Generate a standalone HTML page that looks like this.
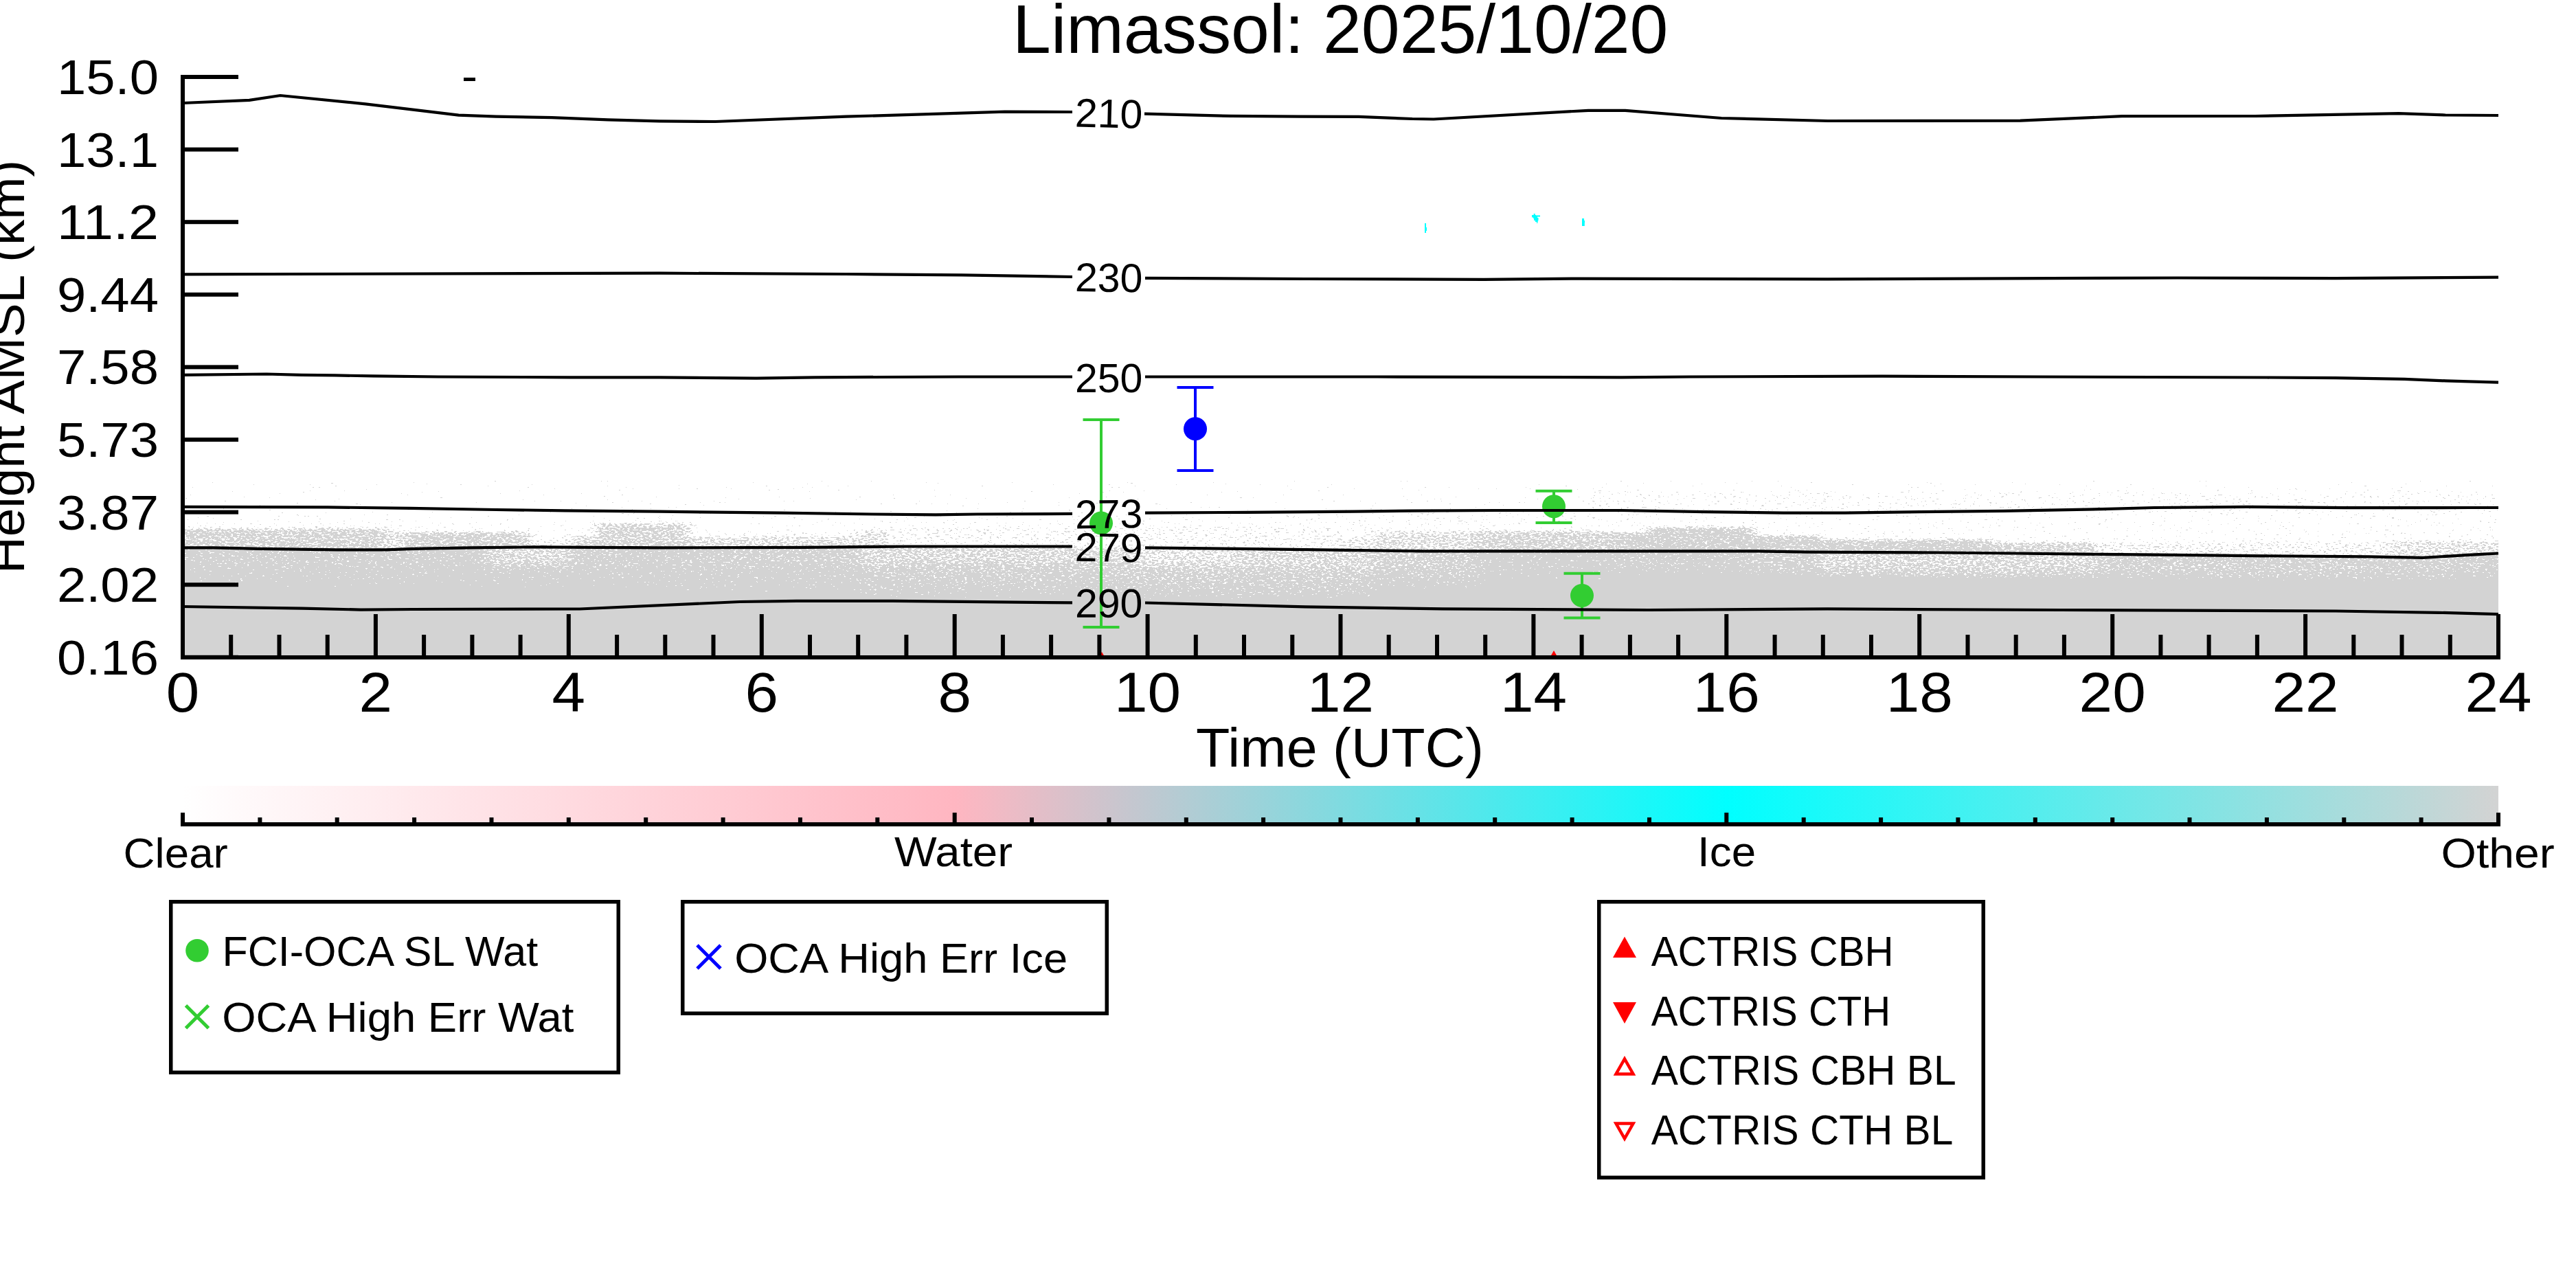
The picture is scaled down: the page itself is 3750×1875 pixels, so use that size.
<!DOCTYPE html>
<html><head><meta charset="utf-8"><title>Limassol: 2025/10/20</title>
<style>
html,body{margin:0;padding:0;background:#fff;width:3750px;height:1875px;overflow:hidden}
svg{display:block}
text{font-family:"Liberation Sans",sans-serif;fill:#000}
.cl{font-size:60px}
.tk{font-size:80px}
.yk{font-size:68px}
.xl{font-size:80px}
.yl{font-size:72px}
.ti{font-size:100px}
.cbl{font-size:60px}
.lg{font-size:60px}
</style></head><body>
<svg width="3750" height="1875" viewBox="0 0 3750 1875">
<defs><linearGradient id="g0" gradientUnits="userSpaceOnUse" x1="0" y1="700" x2="0" y2="900"><stop offset="0.0000" stop-opacity="0"/><stop offset="0.2100" stop-opacity="0"/><stop offset="0.3400" stop-opacity="0.015"/><stop offset="0.3600" stop-opacity="0.75"/><stop offset="0.4870" stop-opacity="0.75"/><stop offset="0.4970" stop-opacity="0.93"/><stop offset="0.5770" stop-opacity="0.93"/><stop offset="0.6470" stop-opacity="0.97"/><stop offset="0.8000" stop-opacity="1"/><stop offset="1.0000" stop-opacity="1"/></linearGradient><linearGradient id="g1" gradientUnits="userSpaceOnUse" x1="0" y1="700" x2="0" y2="900"><stop offset="0.0000" stop-opacity="0"/><stop offset="0.2100" stop-opacity="0"/><stop offset="0.3400" stop-opacity="0.015"/><stop offset="0.3600" stop-opacity="0.75"/><stop offset="0.4870" stop-opacity="0.75"/><stop offset="0.4970" stop-opacity="0.93"/><stop offset="0.5770" stop-opacity="0.93"/><stop offset="0.6470" stop-opacity="0.97"/><stop offset="0.8000" stop-opacity="1"/><stop offset="1.0000" stop-opacity="1"/></linearGradient><linearGradient id="g2" gradientUnits="userSpaceOnUse" x1="0" y1="700" x2="0" y2="900"><stop offset="0.0000" stop-opacity="0"/><stop offset="0.2100" stop-opacity="0"/><stop offset="0.3400" stop-opacity="0.015"/><stop offset="0.3600" stop-opacity="0.75"/><stop offset="0.4870" stop-opacity="0.75"/><stop offset="0.4970" stop-opacity="0.93"/><stop offset="0.5770" stop-opacity="0.93"/><stop offset="0.6470" stop-opacity="0.97"/><stop offset="0.8000" stop-opacity="1"/><stop offset="1.0000" stop-opacity="1"/></linearGradient><linearGradient id="g3" gradientUnits="userSpaceOnUse" x1="0" y1="700" x2="0" y2="900"><stop offset="0.0000" stop-opacity="0"/><stop offset="0.2100" stop-opacity="0"/><stop offset="0.3400" stop-opacity="0.015"/><stop offset="0.3600" stop-opacity="0.75"/><stop offset="0.4900" stop-opacity="0.75"/><stop offset="0.5000" stop-opacity="0.93"/><stop offset="0.5800" stop-opacity="0.93"/><stop offset="0.6500" stop-opacity="0.97"/><stop offset="0.8000" stop-opacity="1"/><stop offset="1.0000" stop-opacity="1"/></linearGradient><linearGradient id="g4" gradientUnits="userSpaceOnUse" x1="0" y1="700" x2="0" y2="900"><stop offset="0.0000" stop-opacity="0"/><stop offset="0.2100" stop-opacity="0"/><stop offset="0.3400" stop-opacity="0.015"/><stop offset="0.3600" stop-opacity="0.75"/><stop offset="0.4942" stop-opacity="0.75"/><stop offset="0.5042" stop-opacity="0.93"/><stop offset="0.5842" stop-opacity="0.93"/><stop offset="0.6542" stop-opacity="0.97"/><stop offset="0.8000" stop-opacity="1"/><stop offset="1.0000" stop-opacity="1"/></linearGradient><linearGradient id="g5" gradientUnits="userSpaceOnUse" x1="0" y1="700" x2="0" y2="900"><stop offset="0.0000" stop-opacity="0"/><stop offset="0.2100" stop-opacity="0"/><stop offset="0.3400" stop-opacity="0.015"/><stop offset="0.3600" stop-opacity="0.75"/><stop offset="0.4970" stop-opacity="0.75"/><stop offset="0.5070" stop-opacity="0.93"/><stop offset="0.5870" stop-opacity="0.93"/><stop offset="0.6570" stop-opacity="0.97"/><stop offset="0.8000" stop-opacity="1"/><stop offset="1.0000" stop-opacity="1"/></linearGradient><linearGradient id="g6" gradientUnits="userSpaceOnUse" x1="0" y1="700" x2="0" y2="900"><stop offset="0.0000" stop-opacity="0"/><stop offset="0.2100" stop-opacity="0"/><stop offset="0.3400" stop-opacity="0.015"/><stop offset="0.3600" stop-opacity="0.75"/><stop offset="0.4998" stop-opacity="0.75"/><stop offset="0.5098" stop-opacity="0.93"/><stop offset="0.5898" stop-opacity="0.93"/><stop offset="0.6598" stop-opacity="0.97"/><stop offset="0.8000" stop-opacity="1"/><stop offset="1.0000" stop-opacity="1"/></linearGradient><linearGradient id="g7" gradientUnits="userSpaceOnUse" x1="0" y1="700" x2="0" y2="900"><stop offset="0.0000" stop-opacity="0"/><stop offset="0.2100" stop-opacity="0"/><stop offset="0.3400" stop-opacity="0.015"/><stop offset="0.3600" stop-opacity="0.75"/><stop offset="0.5020" stop-opacity="0.75"/><stop offset="0.5120" stop-opacity="0.93"/><stop offset="0.5920" stop-opacity="0.93"/><stop offset="0.6620" stop-opacity="0.97"/><stop offset="0.8000" stop-opacity="1"/><stop offset="1.0000" stop-opacity="1"/></linearGradient><linearGradient id="g8" gradientUnits="userSpaceOnUse" x1="0" y1="700" x2="0" y2="900"><stop offset="0.0000" stop-opacity="0"/><stop offset="0.2100" stop-opacity="0"/><stop offset="0.3400" stop-opacity="0.015"/><stop offset="0.3600" stop-opacity="0.75"/><stop offset="0.5020" stop-opacity="0.75"/><stop offset="0.5120" stop-opacity="0.93"/><stop offset="0.5920" stop-opacity="0.93"/><stop offset="0.6620" stop-opacity="0.97"/><stop offset="0.8000" stop-opacity="1"/><stop offset="1.0000" stop-opacity="1"/></linearGradient><linearGradient id="g9" gradientUnits="userSpaceOnUse" x1="0" y1="700" x2="0" y2="900"><stop offset="0.0000" stop-opacity="0"/><stop offset="0.2250" stop-opacity="0"/><stop offset="0.3550" stop-opacity="0.015"/><stop offset="0.3750" stop-opacity="0.4"/><stop offset="0.4994" stop-opacity="0.4"/><stop offset="0.5094" stop-opacity="0.93"/><stop offset="0.5894" stop-opacity="0.93"/><stop offset="0.6594" stop-opacity="0.97"/><stop offset="0.8000" stop-opacity="1"/><stop offset="1.0000" stop-opacity="1"/></linearGradient><linearGradient id="g10" gradientUnits="userSpaceOnUse" x1="0" y1="700" x2="0" y2="900"><stop offset="0.0000" stop-opacity="0"/><stop offset="0.2350" stop-opacity="0"/><stop offset="0.3650" stop-opacity="0.015"/><stop offset="0.3850" stop-opacity="0.8"/><stop offset="0.4933" stop-opacity="0.8"/><stop offset="0.5033" stop-opacity="0.93"/><stop offset="0.5833" stop-opacity="0.93"/><stop offset="0.6533" stop-opacity="0.97"/><stop offset="0.8000" stop-opacity="1"/><stop offset="1.0000" stop-opacity="1"/></linearGradient><linearGradient id="g11" gradientUnits="userSpaceOnUse" x1="0" y1="700" x2="0" y2="900"><stop offset="0.0000" stop-opacity="0"/><stop offset="0.2350" stop-opacity="0"/><stop offset="0.3650" stop-opacity="0.015"/><stop offset="0.3850" stop-opacity="0.8"/><stop offset="0.4899" stop-opacity="0.8"/><stop offset="0.4999" stop-opacity="0.93"/><stop offset="0.5799" stop-opacity="0.93"/><stop offset="0.6499" stop-opacity="0.97"/><stop offset="0.8000" stop-opacity="1"/><stop offset="1.0000" stop-opacity="1"/></linearGradient><linearGradient id="g12" gradientUnits="userSpaceOnUse" x1="0" y1="700" x2="0" y2="900"><stop offset="0.0000" stop-opacity="0"/><stop offset="0.2350" stop-opacity="0"/><stop offset="0.3650" stop-opacity="0.015"/><stop offset="0.3850" stop-opacity="0.8"/><stop offset="0.4867" stop-opacity="0.8"/><stop offset="0.4967" stop-opacity="0.93"/><stop offset="0.5767" stop-opacity="0.93"/><stop offset="0.6467" stop-opacity="0.97"/><stop offset="0.8000" stop-opacity="1"/><stop offset="1.0000" stop-opacity="1"/></linearGradient><linearGradient id="g13" gradientUnits="userSpaceOnUse" x1="0" y1="700" x2="0" y2="900"><stop offset="0.0000" stop-opacity="0"/><stop offset="0.2350" stop-opacity="0"/><stop offset="0.3650" stop-opacity="0.015"/><stop offset="0.3850" stop-opacity="0.7"/><stop offset="0.4839" stop-opacity="0.7"/><stop offset="0.4939" stop-opacity="0.6"/><stop offset="0.5739" stop-opacity="0.6"/><stop offset="0.6439" stop-opacity="0.95"/><stop offset="0.8000" stop-opacity="1"/><stop offset="1.0000" stop-opacity="1"/></linearGradient><linearGradient id="g14" gradientUnits="userSpaceOnUse" x1="0" y1="700" x2="0" y2="900"><stop offset="0.0000" stop-opacity="0"/><stop offset="0.3000" stop-opacity="0"/><stop offset="0.4300" stop-opacity="0.015"/><stop offset="0.4500" stop-opacity="0.2"/><stop offset="0.4821" stop-opacity="0.2"/><stop offset="0.4921" stop-opacity="0.55"/><stop offset="0.5721" stop-opacity="0.55"/><stop offset="0.6421" stop-opacity="0.95"/><stop offset="0.8000" stop-opacity="1"/><stop offset="1.0000" stop-opacity="1"/></linearGradient><linearGradient id="g15" gradientUnits="userSpaceOnUse" x1="0" y1="700" x2="0" y2="900"><stop offset="0.0000" stop-opacity="0"/><stop offset="0.2600" stop-opacity="0"/><stop offset="0.3900" stop-opacity="0.015"/><stop offset="0.4100" stop-opacity="0.5"/><stop offset="0.4836" stop-opacity="0.5"/><stop offset="0.4936" stop-opacity="0.9"/><stop offset="0.5736" stop-opacity="0.9"/><stop offset="0.6436" stop-opacity="0.97"/><stop offset="0.8000" stop-opacity="1"/><stop offset="1.0000" stop-opacity="1"/></linearGradient><linearGradient id="g16" gradientUnits="userSpaceOnUse" x1="0" y1="700" x2="0" y2="900"><stop offset="0.0000" stop-opacity="0"/><stop offset="0.1750" stop-opacity="0"/><stop offset="0.3050" stop-opacity="0.015"/><stop offset="0.3250" stop-opacity="0.7"/><stop offset="0.4849" stop-opacity="0.7"/><stop offset="0.4949" stop-opacity="0.9"/><stop offset="0.5749" stop-opacity="0.9"/><stop offset="0.6449" stop-opacity="0.96"/><stop offset="0.8250" stop-opacity="1"/><stop offset="1.0000" stop-opacity="1"/></linearGradient><linearGradient id="g17" gradientUnits="userSpaceOnUse" x1="0" y1="700" x2="0" y2="900"><stop offset="0.0000" stop-opacity="0"/><stop offset="0.1750" stop-opacity="0"/><stop offset="0.3050" stop-opacity="0.015"/><stop offset="0.3250" stop-opacity="0.7"/><stop offset="0.4862" stop-opacity="0.7"/><stop offset="0.4962" stop-opacity="0.9"/><stop offset="0.5762" stop-opacity="0.9"/><stop offset="0.6462" stop-opacity="0.96"/><stop offset="0.8250" stop-opacity="1"/><stop offset="1.0000" stop-opacity="1"/></linearGradient><linearGradient id="g18" gradientUnits="userSpaceOnUse" x1="0" y1="700" x2="0" y2="900"><stop offset="0.0000" stop-opacity="0"/><stop offset="0.1750" stop-opacity="0"/><stop offset="0.3050" stop-opacity="0.015"/><stop offset="0.3250" stop-opacity="0.7"/><stop offset="0.4867" stop-opacity="0.7"/><stop offset="0.4967" stop-opacity="0.9"/><stop offset="0.5767" stop-opacity="0.9"/><stop offset="0.6467" stop-opacity="0.96"/><stop offset="0.8250" stop-opacity="1"/><stop offset="1.0000" stop-opacity="1"/></linearGradient><linearGradient id="g19" gradientUnits="userSpaceOnUse" x1="0" y1="700" x2="0" y2="900"><stop offset="0.0000" stop-opacity="0"/><stop offset="0.2700" stop-opacity="0"/><stop offset="0.4000" stop-opacity="0.015"/><stop offset="0.4200" stop-opacity="0.45"/><stop offset="0.4861" stop-opacity="0.45"/><stop offset="0.4961" stop-opacity="0.88"/><stop offset="0.5761" stop-opacity="0.88"/><stop offset="0.6461" stop-opacity="0.95"/><stop offset="0.8250" stop-opacity="1"/><stop offset="1.0000" stop-opacity="1"/></linearGradient><linearGradient id="g20" gradientUnits="userSpaceOnUse" x1="0" y1="700" x2="0" y2="900"><stop offset="0.0000" stop-opacity="0"/><stop offset="0.2700" stop-opacity="0"/><stop offset="0.4000" stop-opacity="0.015"/><stop offset="0.4200" stop-opacity="0.45"/><stop offset="0.4855" stop-opacity="0.45"/><stop offset="0.4955" stop-opacity="0.88"/><stop offset="0.5755" stop-opacity="0.88"/><stop offset="0.6455" stop-opacity="0.95"/><stop offset="0.8250" stop-opacity="1"/><stop offset="1.0000" stop-opacity="1"/></linearGradient><linearGradient id="g21" gradientUnits="userSpaceOnUse" x1="0" y1="700" x2="0" y2="900"><stop offset="0.0000" stop-opacity="0"/><stop offset="0.2700" stop-opacity="0"/><stop offset="0.4000" stop-opacity="0.015"/><stop offset="0.4200" stop-opacity="0.45"/><stop offset="0.4850" stop-opacity="0.45"/><stop offset="0.4950" stop-opacity="0.88"/><stop offset="0.5750" stop-opacity="0.88"/><stop offset="0.6450" stop-opacity="0.95"/><stop offset="0.8250" stop-opacity="1"/><stop offset="1.0000" stop-opacity="1"/></linearGradient><linearGradient id="g22" gradientUnits="userSpaceOnUse" x1="0" y1="700" x2="0" y2="900"><stop offset="0.0000" stop-opacity="0"/><stop offset="0.2700" stop-opacity="0"/><stop offset="0.4000" stop-opacity="0.015"/><stop offset="0.4200" stop-opacity="0.45"/><stop offset="0.4844" stop-opacity="0.45"/><stop offset="0.4944" stop-opacity="0.88"/><stop offset="0.5744" stop-opacity="0.88"/><stop offset="0.6444" stop-opacity="0.95"/><stop offset="0.8250" stop-opacity="1"/><stop offset="1.0000" stop-opacity="1"/></linearGradient><linearGradient id="g23" gradientUnits="userSpaceOnUse" x1="0" y1="700" x2="0" y2="900"><stop offset="0.0000" stop-opacity="0"/><stop offset="0.2700" stop-opacity="0"/><stop offset="0.4000" stop-opacity="0.015"/><stop offset="0.4200" stop-opacity="0.45"/><stop offset="0.4833" stop-opacity="0.45"/><stop offset="0.4933" stop-opacity="0.88"/><stop offset="0.5733" stop-opacity="0.88"/><stop offset="0.6433" stop-opacity="0.95"/><stop offset="0.8250" stop-opacity="1"/><stop offset="1.0000" stop-opacity="1"/></linearGradient><linearGradient id="g24" gradientUnits="userSpaceOnUse" x1="0" y1="700" x2="0" y2="900"><stop offset="0.0000" stop-opacity="0"/><stop offset="0.2700" stop-opacity="0"/><stop offset="0.4000" stop-opacity="0.015"/><stop offset="0.4200" stop-opacity="0.45"/><stop offset="0.4816" stop-opacity="0.45"/><stop offset="0.4916" stop-opacity="0.88"/><stop offset="0.5716" stop-opacity="0.88"/><stop offset="0.6416" stop-opacity="0.95"/><stop offset="0.8250" stop-opacity="1"/><stop offset="1.0000" stop-opacity="1"/></linearGradient><linearGradient id="g25" gradientUnits="userSpaceOnUse" x1="0" y1="700" x2="0" y2="900"><stop offset="0.0000" stop-opacity="0"/><stop offset="0.2250" stop-opacity="0"/><stop offset="0.3550" stop-opacity="0.015"/><stop offset="0.3750" stop-opacity="0.4"/><stop offset="0.4798" stop-opacity="0.4"/><stop offset="0.4898" stop-opacity="0.6"/><stop offset="0.5698" stop-opacity="0.6"/><stop offset="0.6398" stop-opacity="0.85"/><stop offset="0.8600" stop-opacity="1"/><stop offset="1.0000" stop-opacity="1"/></linearGradient><linearGradient id="g26" gradientUnits="userSpaceOnUse" x1="0" y1="700" x2="0" y2="900"><stop offset="0.0000" stop-opacity="0"/><stop offset="0.2000" stop-opacity="0"/><stop offset="0.3300" stop-opacity="0.015"/><stop offset="0.3500" stop-opacity="0.08"/><stop offset="0.4781" stop-opacity="0.08"/><stop offset="0.4881" stop-opacity="0.6"/><stop offset="0.5681" stop-opacity="0.6"/><stop offset="0.6381" stop-opacity="0.85"/><stop offset="0.8600" stop-opacity="1"/><stop offset="1.0000" stop-opacity="1"/></linearGradient><linearGradient id="g27" gradientUnits="userSpaceOnUse" x1="0" y1="700" x2="0" y2="900"><stop offset="0.0000" stop-opacity="0"/><stop offset="0.2000" stop-opacity="0"/><stop offset="0.3300" stop-opacity="0.015"/><stop offset="0.3500" stop-opacity="0.08"/><stop offset="0.4775" stop-opacity="0.08"/><stop offset="0.4875" stop-opacity="0.6"/><stop offset="0.5675" stop-opacity="0.6"/><stop offset="0.6375" stop-opacity="0.85"/><stop offset="0.8600" stop-opacity="1"/><stop offset="1.0000" stop-opacity="1"/></linearGradient><linearGradient id="g28" gradientUnits="userSpaceOnUse" x1="0" y1="700" x2="0" y2="900"><stop offset="0.0000" stop-opacity="0"/><stop offset="0.2000" stop-opacity="0"/><stop offset="0.3300" stop-opacity="0.015"/><stop offset="0.3500" stop-opacity="0.08"/><stop offset="0.4775" stop-opacity="0.08"/><stop offset="0.4875" stop-opacity="0.6"/><stop offset="0.5675" stop-opacity="0.6"/><stop offset="0.6375" stop-opacity="0.85"/><stop offset="0.8600" stop-opacity="1"/><stop offset="1.0000" stop-opacity="1"/></linearGradient><linearGradient id="g29" gradientUnits="userSpaceOnUse" x1="0" y1="700" x2="0" y2="900"><stop offset="0.0000" stop-opacity="0"/><stop offset="0.2000" stop-opacity="0"/><stop offset="0.3300" stop-opacity="0.015"/><stop offset="0.3500" stop-opacity="0.08"/><stop offset="0.4775" stop-opacity="0.08"/><stop offset="0.4875" stop-opacity="0.6"/><stop offset="0.5675" stop-opacity="0.6"/><stop offset="0.6375" stop-opacity="0.85"/><stop offset="0.8600" stop-opacity="1"/><stop offset="1.0000" stop-opacity="1"/></linearGradient><linearGradient id="g30" gradientUnits="userSpaceOnUse" x1="0" y1="700" x2="0" y2="900"><stop offset="0.0000" stop-opacity="0"/><stop offset="0.2000" stop-opacity="0"/><stop offset="0.3300" stop-opacity="0.015"/><stop offset="0.3500" stop-opacity="0.08"/><stop offset="0.4775" stop-opacity="0.08"/><stop offset="0.4875" stop-opacity="0.6"/><stop offset="0.5675" stop-opacity="0.6"/><stop offset="0.6375" stop-opacity="0.85"/><stop offset="0.8600" stop-opacity="1"/><stop offset="1.0000" stop-opacity="1"/></linearGradient><linearGradient id="g31" gradientUnits="userSpaceOnUse" x1="0" y1="700" x2="0" y2="900"><stop offset="0.0000" stop-opacity="0"/><stop offset="0.2000" stop-opacity="0"/><stop offset="0.3300" stop-opacity="0.015"/><stop offset="0.3500" stop-opacity="0.08"/><stop offset="0.4775" stop-opacity="0.08"/><stop offset="0.4875" stop-opacity="0.6"/><stop offset="0.5675" stop-opacity="0.6"/><stop offset="0.6375" stop-opacity="0.85"/><stop offset="0.8600" stop-opacity="1"/><stop offset="1.0000" stop-opacity="1"/></linearGradient><linearGradient id="g32" gradientUnits="userSpaceOnUse" x1="0" y1="700" x2="0" y2="900"><stop offset="0.0000" stop-opacity="0"/><stop offset="0.2000" stop-opacity="0"/><stop offset="0.3300" stop-opacity="0.015"/><stop offset="0.3500" stop-opacity="0.08"/><stop offset="0.4775" stop-opacity="0.08"/><stop offset="0.4875" stop-opacity="0.6"/><stop offset="0.5675" stop-opacity="0.6"/><stop offset="0.6375" stop-opacity="0.85"/><stop offset="0.8600" stop-opacity="1"/><stop offset="1.0000" stop-opacity="1"/></linearGradient><linearGradient id="g33" gradientUnits="userSpaceOnUse" x1="0" y1="700" x2="0" y2="900"><stop offset="0.0000" stop-opacity="0"/><stop offset="0.2000" stop-opacity="0"/><stop offset="0.3300" stop-opacity="0.015"/><stop offset="0.3500" stop-opacity="0.08"/><stop offset="0.4801" stop-opacity="0.08"/><stop offset="0.4901" stop-opacity="0.6"/><stop offset="0.5701" stop-opacity="0.6"/><stop offset="0.6401" stop-opacity="0.85"/><stop offset="0.8600" stop-opacity="1"/><stop offset="1.0000" stop-opacity="1"/></linearGradient><linearGradient id="g34" gradientUnits="userSpaceOnUse" x1="0" y1="700" x2="0" y2="900"><stop offset="0.0000" stop-opacity="0"/><stop offset="0.2000" stop-opacity="0"/><stop offset="0.3300" stop-opacity="0.015"/><stop offset="0.3500" stop-opacity="0.08"/><stop offset="0.4837" stop-opacity="0.08"/><stop offset="0.4937" stop-opacity="0.6"/><stop offset="0.5737" stop-opacity="0.6"/><stop offset="0.6437" stop-opacity="0.85"/><stop offset="0.8600" stop-opacity="1"/><stop offset="1.0000" stop-opacity="1"/></linearGradient><linearGradient id="g35" gradientUnits="userSpaceOnUse" x1="0" y1="700" x2="0" y2="900"><stop offset="0.0000" stop-opacity="0"/><stop offset="0.2000" stop-opacity="0"/><stop offset="0.3300" stop-opacity="0.015"/><stop offset="0.3500" stop-opacity="0.08"/><stop offset="0.4874" stop-opacity="0.08"/><stop offset="0.4974" stop-opacity="0.4"/><stop offset="0.5774" stop-opacity="0.4"/><stop offset="0.6474" stop-opacity="0.8"/><stop offset="0.8750" stop-opacity="1"/><stop offset="1.0000" stop-opacity="1"/></linearGradient><linearGradient id="g36" gradientUnits="userSpaceOnUse" x1="0" y1="700" x2="0" y2="900"><stop offset="0.0000" stop-opacity="0"/><stop offset="0.2000" stop-opacity="0"/><stop offset="0.3300" stop-opacity="0.015"/><stop offset="0.3500" stop-opacity="0.08"/><stop offset="0.4900" stop-opacity="0.08"/><stop offset="0.5000" stop-opacity="0.4"/><stop offset="0.5800" stop-opacity="0.4"/><stop offset="0.6500" stop-opacity="0.8"/><stop offset="0.8750" stop-opacity="1"/><stop offset="1.0000" stop-opacity="1"/></linearGradient><linearGradient id="g37" gradientUnits="userSpaceOnUse" x1="0" y1="700" x2="0" y2="900"><stop offset="0.0000" stop-opacity="0"/><stop offset="0.2000" stop-opacity="0"/><stop offset="0.3300" stop-opacity="0.015"/><stop offset="0.3500" stop-opacity="0.08"/><stop offset="0.4925" stop-opacity="0.08"/><stop offset="0.5025" stop-opacity="0.4"/><stop offset="0.5825" stop-opacity="0.4"/><stop offset="0.6525" stop-opacity="0.8"/><stop offset="0.8750" stop-opacity="1"/><stop offset="1.0000" stop-opacity="1"/></linearGradient><linearGradient id="g38" gradientUnits="userSpaceOnUse" x1="0" y1="700" x2="0" y2="900"><stop offset="0.0000" stop-opacity="0"/><stop offset="0.2000" stop-opacity="0"/><stop offset="0.3300" stop-opacity="0.015"/><stop offset="0.3500" stop-opacity="0.08"/><stop offset="0.4954" stop-opacity="0.08"/><stop offset="0.5054" stop-opacity="0.6"/><stop offset="0.5854" stop-opacity="0.6"/><stop offset="0.6554" stop-opacity="0.8"/><stop offset="0.8750" stop-opacity="1"/><stop offset="1.0000" stop-opacity="1"/></linearGradient><linearGradient id="g39" gradientUnits="userSpaceOnUse" x1="0" y1="700" x2="0" y2="900"><stop offset="0.0000" stop-opacity="0"/><stop offset="0.2000" stop-opacity="0"/><stop offset="0.3300" stop-opacity="0.015"/><stop offset="0.3500" stop-opacity="0.08"/><stop offset="0.4989" stop-opacity="0.08"/><stop offset="0.5089" stop-opacity="0.6"/><stop offset="0.5889" stop-opacity="0.6"/><stop offset="0.6589" stop-opacity="0.8"/><stop offset="0.8750" stop-opacity="1"/><stop offset="1.0000" stop-opacity="1"/></linearGradient><linearGradient id="g40" gradientUnits="userSpaceOnUse" x1="0" y1="700" x2="0" y2="900"><stop offset="0.0000" stop-opacity="0"/><stop offset="0.2000" stop-opacity="0"/><stop offset="0.2300" stop-opacity="0.022"/><stop offset="0.3300" stop-opacity="0.022"/><stop offset="0.3500" stop-opacity="0.08"/><stop offset="0.5022" stop-opacity="0.08"/><stop offset="0.5122" stop-opacity="0.6"/><stop offset="0.5922" stop-opacity="0.6"/><stop offset="0.6622" stop-opacity="0.8"/><stop offset="0.8750" stop-opacity="1"/><stop offset="1.0000" stop-opacity="1"/></linearGradient><linearGradient id="g41" gradientUnits="userSpaceOnUse" x1="0" y1="700" x2="0" y2="900"><stop offset="0.0000" stop-opacity="0"/><stop offset="0.2000" stop-opacity="0"/><stop offset="0.2300" stop-opacity="0.022"/><stop offset="0.4050" stop-opacity="0.022"/><stop offset="0.4250" stop-opacity="0.3"/><stop offset="0.5054" stop-opacity="0.3"/><stop offset="0.5154" stop-opacity="0.6"/><stop offset="0.5954" stop-opacity="0.6"/><stop offset="0.6654" stop-opacity="0.8"/><stop offset="0.8500" stop-opacity="1"/><stop offset="1.0000" stop-opacity="1"/></linearGradient><linearGradient id="g42" gradientUnits="userSpaceOnUse" x1="0" y1="700" x2="0" y2="900"><stop offset="0.0000" stop-opacity="0"/><stop offset="0.2000" stop-opacity="0"/><stop offset="0.2300" stop-opacity="0.022"/><stop offset="0.3650" stop-opacity="0.022"/><stop offset="0.3850" stop-opacity="0.45"/><stop offset="0.5085" stop-opacity="0.45"/><stop offset="0.5185" stop-opacity="0.8"/><stop offset="0.5985" stop-opacity="0.8"/><stop offset="0.6685" stop-opacity="0.9"/><stop offset="0.8000" stop-opacity="1"/><stop offset="1.0000" stop-opacity="1"/></linearGradient><linearGradient id="g43" gradientUnits="userSpaceOnUse" x1="0" y1="700" x2="0" y2="900"><stop offset="0.0000" stop-opacity="0"/><stop offset="0.2000" stop-opacity="0"/><stop offset="0.2300" stop-opacity="0.022"/><stop offset="0.3650" stop-opacity="0.022"/><stop offset="0.3850" stop-opacity="0.45"/><stop offset="0.5115" stop-opacity="0.45"/><stop offset="0.5215" stop-opacity="0.8"/><stop offset="0.6015" stop-opacity="0.8"/><stop offset="0.6715" stop-opacity="0.9"/><stop offset="0.8000" stop-opacity="1"/><stop offset="1.0000" stop-opacity="1"/></linearGradient><linearGradient id="g44" gradientUnits="userSpaceOnUse" x1="0" y1="700" x2="0" y2="900"><stop offset="0.0000" stop-opacity="0"/><stop offset="0.2000" stop-opacity="0"/><stop offset="0.2300" stop-opacity="0.022"/><stop offset="0.3650" stop-opacity="0.022"/><stop offset="0.3850" stop-opacity="0.45"/><stop offset="0.5115" stop-opacity="0.45"/><stop offset="0.5215" stop-opacity="0.8"/><stop offset="0.6015" stop-opacity="0.8"/><stop offset="0.6715" stop-opacity="0.9"/><stop offset="0.8000" stop-opacity="1"/><stop offset="1.0000" stop-opacity="1"/></linearGradient><linearGradient id="g45" gradientUnits="userSpaceOnUse" x1="0" y1="700" x2="0" y2="900"><stop offset="0.0000" stop-opacity="0"/><stop offset="0.2000" stop-opacity="0"/><stop offset="0.2300" stop-opacity="0.022"/><stop offset="0.3600" stop-opacity="0.022"/><stop offset="0.3800" stop-opacity="0.7"/><stop offset="0.5115" stop-opacity="0.7"/><stop offset="0.5215" stop-opacity="0.96"/><stop offset="0.6015" stop-opacity="0.96"/><stop offset="0.6715" stop-opacity="0.98"/><stop offset="0.7500" stop-opacity="1"/><stop offset="1.0000" stop-opacity="1"/></linearGradient><linearGradient id="g46" gradientUnits="userSpaceOnUse" x1="0" y1="700" x2="0" y2="900"><stop offset="0.0000" stop-opacity="0"/><stop offset="0.2000" stop-opacity="0"/><stop offset="0.2300" stop-opacity="0.022"/><stop offset="0.3600" stop-opacity="0.022"/><stop offset="0.3800" stop-opacity="0.7"/><stop offset="0.5115" stop-opacity="0.7"/><stop offset="0.5215" stop-opacity="0.96"/><stop offset="0.6015" stop-opacity="0.96"/><stop offset="0.6715" stop-opacity="0.98"/><stop offset="0.7500" stop-opacity="1"/><stop offset="1.0000" stop-opacity="1"/></linearGradient><linearGradient id="g47" gradientUnits="userSpaceOnUse" x1="0" y1="700" x2="0" y2="900"><stop offset="0.0000" stop-opacity="0"/><stop offset="0.2000" stop-opacity="0"/><stop offset="0.2300" stop-opacity="0.022"/><stop offset="0.3600" stop-opacity="0.022"/><stop offset="0.3800" stop-opacity="0.7"/><stop offset="0.5115" stop-opacity="0.7"/><stop offset="0.5215" stop-opacity="0.96"/><stop offset="0.6015" stop-opacity="0.96"/><stop offset="0.6715" stop-opacity="0.98"/><stop offset="0.7500" stop-opacity="1"/><stop offset="1.0000" stop-opacity="1"/></linearGradient><linearGradient id="g48" gradientUnits="userSpaceOnUse" x1="0" y1="700" x2="0" y2="900"><stop offset="0.0000" stop-opacity="0"/><stop offset="0.2000" stop-opacity="0"/><stop offset="0.2300" stop-opacity="0.022"/><stop offset="0.3600" stop-opacity="0.022"/><stop offset="0.3800" stop-opacity="0.7"/><stop offset="0.5115" stop-opacity="0.7"/><stop offset="0.5215" stop-opacity="0.96"/><stop offset="0.6015" stop-opacity="0.96"/><stop offset="0.6715" stop-opacity="0.98"/><stop offset="0.7500" stop-opacity="1"/><stop offset="1.0000" stop-opacity="1"/></linearGradient><linearGradient id="g49" gradientUnits="userSpaceOnUse" x1="0" y1="700" x2="0" y2="900"><stop offset="0.0000" stop-opacity="0"/><stop offset="0.0600" stop-opacity="0"/><stop offset="0.1000" stop-opacity="0.03"/><stop offset="0.2100" stop-opacity="0.03"/><stop offset="0.2600" stop-opacity="0.006"/><stop offset="0.3600" stop-opacity="0.008"/><stop offset="0.3800" stop-opacity="0.7"/><stop offset="0.5115" stop-opacity="0.7"/><stop offset="0.5215" stop-opacity="0.96"/><stop offset="0.6015" stop-opacity="0.96"/><stop offset="0.6715" stop-opacity="0.98"/><stop offset="0.7500" stop-opacity="1"/><stop offset="1.0000" stop-opacity="1"/></linearGradient><linearGradient id="g50" gradientUnits="userSpaceOnUse" x1="0" y1="700" x2="0" y2="900"><stop offset="0.0000" stop-opacity="0"/><stop offset="0.0600" stop-opacity="0"/><stop offset="0.1000" stop-opacity="0.03"/><stop offset="0.2100" stop-opacity="0.03"/><stop offset="0.2600" stop-opacity="0.006"/><stop offset="0.3700" stop-opacity="0.008"/><stop offset="0.3900" stop-opacity="0.85"/><stop offset="0.5115" stop-opacity="0.85"/><stop offset="0.5215" stop-opacity="0.92"/><stop offset="0.6015" stop-opacity="0.92"/><stop offset="0.6715" stop-opacity="0.98"/><stop offset="0.6915" stop-opacity="1"/><stop offset="1.0000" stop-opacity="1"/></linearGradient><linearGradient id="g51" gradientUnits="userSpaceOnUse" x1="0" y1="700" x2="0" y2="900"><stop offset="0.0000" stop-opacity="0"/><stop offset="0.0600" stop-opacity="0"/><stop offset="0.1000" stop-opacity="0.03"/><stop offset="0.2100" stop-opacity="0.03"/><stop offset="0.2600" stop-opacity="0.006"/><stop offset="0.3300" stop-opacity="0.008"/><stop offset="0.3500" stop-opacity="0.88"/><stop offset="0.5115" stop-opacity="0.88"/><stop offset="0.5215" stop-opacity="0.92"/><stop offset="0.6015" stop-opacity="0.92"/><stop offset="0.6715" stop-opacity="0.98"/><stop offset="0.6915" stop-opacity="1"/><stop offset="1.0000" stop-opacity="1"/></linearGradient><linearGradient id="g52" gradientUnits="userSpaceOnUse" x1="0" y1="700" x2="0" y2="900"><stop offset="0.0000" stop-opacity="0"/><stop offset="0.0600" stop-opacity="0"/><stop offset="0.1000" stop-opacity="0.03"/><stop offset="0.2100" stop-opacity="0.03"/><stop offset="0.2600" stop-opacity="0.006"/><stop offset="0.3300" stop-opacity="0.008"/><stop offset="0.3500" stop-opacity="0.88"/><stop offset="0.5115" stop-opacity="0.88"/><stop offset="0.5215" stop-opacity="0.92"/><stop offset="0.6015" stop-opacity="0.92"/><stop offset="0.6715" stop-opacity="0.98"/><stop offset="0.6915" stop-opacity="1"/><stop offset="1.0000" stop-opacity="1"/></linearGradient><linearGradient id="g53" gradientUnits="userSpaceOnUse" x1="0" y1="700" x2="0" y2="900"><stop offset="0.0000" stop-opacity="0"/><stop offset="0.0600" stop-opacity="0"/><stop offset="0.1000" stop-opacity="0.03"/><stop offset="0.2100" stop-opacity="0.03"/><stop offset="0.2600" stop-opacity="0.006"/><stop offset="0.3300" stop-opacity="0.008"/><stop offset="0.3500" stop-opacity="0.88"/><stop offset="0.5115" stop-opacity="0.88"/><stop offset="0.5215" stop-opacity="0.92"/><stop offset="0.6015" stop-opacity="0.92"/><stop offset="0.6715" stop-opacity="0.98"/><stop offset="0.6915" stop-opacity="1"/><stop offset="1.0000" stop-opacity="1"/></linearGradient><linearGradient id="g54" gradientUnits="userSpaceOnUse" x1="0" y1="700" x2="0" y2="900"><stop offset="0.0000" stop-opacity="0"/><stop offset="0.0600" stop-opacity="0"/><stop offset="0.1000" stop-opacity="0.03"/><stop offset="0.2100" stop-opacity="0.03"/><stop offset="0.2600" stop-opacity="0.006"/><stop offset="0.3900" stop-opacity="0.008"/><stop offset="0.4100" stop-opacity="0.85"/><stop offset="0.5130" stop-opacity="0.85"/><stop offset="0.5230" stop-opacity="0.85"/><stop offset="0.6030" stop-opacity="0.85"/><stop offset="0.6730" stop-opacity="0.95"/><stop offset="0.6930" stop-opacity="1"/><stop offset="1.0000" stop-opacity="1"/></linearGradient><linearGradient id="g55" gradientUnits="userSpaceOnUse" x1="0" y1="700" x2="0" y2="900"><stop offset="0.0000" stop-opacity="0"/><stop offset="0.0600" stop-opacity="0"/><stop offset="0.1000" stop-opacity="0.03"/><stop offset="0.2100" stop-opacity="0.03"/><stop offset="0.2600" stop-opacity="0.006"/><stop offset="0.3900" stop-opacity="0.008"/><stop offset="0.4100" stop-opacity="0.85"/><stop offset="0.5174" stop-opacity="0.85"/><stop offset="0.5274" stop-opacity="0.85"/><stop offset="0.6074" stop-opacity="0.85"/><stop offset="0.6774" stop-opacity="0.95"/><stop offset="0.6974" stop-opacity="1"/><stop offset="1.0000" stop-opacity="1"/></linearGradient><linearGradient id="g56" gradientUnits="userSpaceOnUse" x1="0" y1="700" x2="0" y2="900"><stop offset="0.0000" stop-opacity="0"/><stop offset="0.0600" stop-opacity="0"/><stop offset="0.1000" stop-opacity="0.03"/><stop offset="0.2100" stop-opacity="0.03"/><stop offset="0.2600" stop-opacity="0.006"/><stop offset="0.4200" stop-opacity="0.008"/><stop offset="0.4400" stop-opacity="0.85"/><stop offset="0.5189" stop-opacity="0.85"/><stop offset="0.5289" stop-opacity="0.6"/><stop offset="0.6089" stop-opacity="0.6"/><stop offset="0.6789" stop-opacity="0.85"/><stop offset="0.6989" stop-opacity="1"/><stop offset="1.0000" stop-opacity="1"/></linearGradient><linearGradient id="g57" gradientUnits="userSpaceOnUse" x1="0" y1="700" x2="0" y2="900"><stop offset="0.0000" stop-opacity="0"/><stop offset="0.0600" stop-opacity="0"/><stop offset="0.1000" stop-opacity="0.03"/><stop offset="0.2100" stop-opacity="0.03"/><stop offset="0.2600" stop-opacity="0.006"/><stop offset="0.4200" stop-opacity="0.008"/><stop offset="0.4400" stop-opacity="0.85"/><stop offset="0.5199" stop-opacity="0.85"/><stop offset="0.5299" stop-opacity="0.6"/><stop offset="0.6099" stop-opacity="0.6"/><stop offset="0.6799" stop-opacity="0.85"/><stop offset="0.6999" stop-opacity="1"/><stop offset="1.0000" stop-opacity="1"/></linearGradient><linearGradient id="g58" gradientUnits="userSpaceOnUse" x1="0" y1="700" x2="0" y2="900"><stop offset="0.0000" stop-opacity="0"/><stop offset="0.0600" stop-opacity="0"/><stop offset="0.1000" stop-opacity="0.03"/><stop offset="0.2100" stop-opacity="0.03"/><stop offset="0.2600" stop-opacity="0.006"/><stop offset="0.4200" stop-opacity="0.008"/><stop offset="0.4400" stop-opacity="0.85"/><stop offset="0.5208" stop-opacity="0.85"/><stop offset="0.5308" stop-opacity="0.6"/><stop offset="0.6108" stop-opacity="0.6"/><stop offset="0.6808" stop-opacity="0.85"/><stop offset="0.7008" stop-opacity="1"/><stop offset="1.0000" stop-opacity="1"/></linearGradient><linearGradient id="g59" gradientUnits="userSpaceOnUse" x1="0" y1="700" x2="0" y2="900"><stop offset="0.0000" stop-opacity="0"/><stop offset="0.0600" stop-opacity="0"/><stop offset="0.1000" stop-opacity="0.03"/><stop offset="0.2100" stop-opacity="0.03"/><stop offset="0.2600" stop-opacity="0.006"/><stop offset="0.4200" stop-opacity="0.008"/><stop offset="0.4400" stop-opacity="0.85"/><stop offset="0.5218" stop-opacity="0.85"/><stop offset="0.5318" stop-opacity="0.6"/><stop offset="0.6118" stop-opacity="0.6"/><stop offset="0.6818" stop-opacity="0.85"/><stop offset="0.7018" stop-opacity="1"/><stop offset="1.0000" stop-opacity="1"/></linearGradient><linearGradient id="g60" gradientUnits="userSpaceOnUse" x1="0" y1="700" x2="0" y2="900"><stop offset="0.0000" stop-opacity="0"/><stop offset="0.0600" stop-opacity="0"/><stop offset="0.1000" stop-opacity="0.03"/><stop offset="0.2100" stop-opacity="0.03"/><stop offset="0.2600" stop-opacity="0.006"/><stop offset="0.4200" stop-opacity="0.008"/><stop offset="0.4400" stop-opacity="0.85"/><stop offset="0.5230" stop-opacity="0.85"/><stop offset="0.5330" stop-opacity="0.6"/><stop offset="0.6130" stop-opacity="0.6"/><stop offset="0.6830" stop-opacity="0.85"/><stop offset="0.7030" stop-opacity="1"/><stop offset="1.0000" stop-opacity="1"/></linearGradient><linearGradient id="g61" gradientUnits="userSpaceOnUse" x1="0" y1="700" x2="0" y2="900"><stop offset="0.0000" stop-opacity="0"/><stop offset="0.0600" stop-opacity="0"/><stop offset="0.1000" stop-opacity="0.03"/><stop offset="0.2100" stop-opacity="0.03"/><stop offset="0.2600" stop-opacity="0.006"/><stop offset="0.4200" stop-opacity="0.008"/><stop offset="0.4400" stop-opacity="0.85"/><stop offset="0.5250" stop-opacity="0.85"/><stop offset="0.5350" stop-opacity="0.6"/><stop offset="0.6150" stop-opacity="0.6"/><stop offset="0.6850" stop-opacity="0.85"/><stop offset="0.7050" stop-opacity="1"/><stop offset="1.0000" stop-opacity="1"/></linearGradient><linearGradient id="g62" gradientUnits="userSpaceOnUse" x1="0" y1="700" x2="0" y2="900"><stop offset="0.0000" stop-opacity="0"/><stop offset="0.0600" stop-opacity="0"/><stop offset="0.1000" stop-opacity="0.03"/><stop offset="0.2100" stop-opacity="0.03"/><stop offset="0.2600" stop-opacity="0.006"/><stop offset="0.4400" stop-opacity="0.008"/><stop offset="0.4600" stop-opacity="0.7"/><stop offset="0.5272" stop-opacity="0.7"/><stop offset="0.5372" stop-opacity="0.6"/><stop offset="0.6172" stop-opacity="0.6"/><stop offset="0.6872" stop-opacity="0.85"/><stop offset="0.7072" stop-opacity="1"/><stop offset="1.0000" stop-opacity="1"/></linearGradient><linearGradient id="g63" gradientUnits="userSpaceOnUse" x1="0" y1="700" x2="0" y2="900"><stop offset="0.0000" stop-opacity="0"/><stop offset="0.0600" stop-opacity="0"/><stop offset="0.1000" stop-opacity="0.03"/><stop offset="0.2100" stop-opacity="0.03"/><stop offset="0.2600" stop-opacity="0.006"/><stop offset="0.4400" stop-opacity="0.008"/><stop offset="0.4600" stop-opacity="0.7"/><stop offset="0.5299" stop-opacity="0.7"/><stop offset="0.5399" stop-opacity="0.6"/><stop offset="0.6199" stop-opacity="0.6"/><stop offset="0.6899" stop-opacity="0.85"/><stop offset="0.7099" stop-opacity="1"/><stop offset="1.0000" stop-opacity="1"/></linearGradient><linearGradient id="g64" gradientUnits="userSpaceOnUse" x1="0" y1="700" x2="0" y2="900"><stop offset="0.0000" stop-opacity="0"/><stop offset="0.0600" stop-opacity="0"/><stop offset="0.1000" stop-opacity="0.03"/><stop offset="0.2100" stop-opacity="0.03"/><stop offset="0.2600" stop-opacity="0.006"/><stop offset="0.4400" stop-opacity="0.008"/><stop offset="0.4600" stop-opacity="0.7"/><stop offset="0.5326" stop-opacity="0.7"/><stop offset="0.5426" stop-opacity="0.6"/><stop offset="0.6226" stop-opacity="0.6"/><stop offset="0.6926" stop-opacity="0.85"/><stop offset="0.7126" stop-opacity="1"/><stop offset="1.0000" stop-opacity="1"/></linearGradient><linearGradient id="g65" gradientUnits="userSpaceOnUse" x1="0" y1="700" x2="0" y2="900"><stop offset="0.0000" stop-opacity="0"/><stop offset="0.0600" stop-opacity="0"/><stop offset="0.1000" stop-opacity="0.03"/><stop offset="0.2100" stop-opacity="0.03"/><stop offset="0.2600" stop-opacity="0.006"/><stop offset="0.4400" stop-opacity="0.008"/><stop offset="0.4600" stop-opacity="0.15"/><stop offset="0.5351" stop-opacity="0.15"/><stop offset="0.5451" stop-opacity="0.85"/><stop offset="0.6251" stop-opacity="0.85"/><stop offset="0.6951" stop-opacity="0.95"/><stop offset="0.7151" stop-opacity="1"/><stop offset="1.0000" stop-opacity="1"/></linearGradient><linearGradient id="g66" gradientUnits="userSpaceOnUse" x1="0" y1="700" x2="0" y2="900"><stop offset="0.0000" stop-opacity="0"/><stop offset="0.0600" stop-opacity="0"/><stop offset="0.1000" stop-opacity="0.03"/><stop offset="0.2100" stop-opacity="0.03"/><stop offset="0.2600" stop-opacity="0.006"/><stop offset="0.4400" stop-opacity="0.008"/><stop offset="0.4600" stop-opacity="0.15"/><stop offset="0.5372" stop-opacity="0.15"/><stop offset="0.5472" stop-opacity="0.85"/><stop offset="0.6272" stop-opacity="0.85"/><stop offset="0.6972" stop-opacity="0.95"/><stop offset="0.7172" stop-opacity="1"/><stop offset="1.0000" stop-opacity="1"/></linearGradient><linearGradient id="g67" gradientUnits="userSpaceOnUse" x1="0" y1="700" x2="0" y2="900"><stop offset="0.0000" stop-opacity="0"/><stop offset="0.0600" stop-opacity="0"/><stop offset="0.1000" stop-opacity="0.03"/><stop offset="0.2100" stop-opacity="0.03"/><stop offset="0.2600" stop-opacity="0.006"/><stop offset="0.4400" stop-opacity="0.008"/><stop offset="0.4600" stop-opacity="0.15"/><stop offset="0.5393" stop-opacity="0.15"/><stop offset="0.5493" stop-opacity="0.85"/><stop offset="0.6293" stop-opacity="0.85"/><stop offset="0.6993" stop-opacity="0.95"/><stop offset="0.7193" stop-opacity="1"/><stop offset="1.0000" stop-opacity="1"/></linearGradient><linearGradient id="g68" gradientUnits="userSpaceOnUse" x1="0" y1="700" x2="0" y2="900"><stop offset="0.0000" stop-opacity="0"/><stop offset="0.0600" stop-opacity="0"/><stop offset="0.1000" stop-opacity="0.03"/><stop offset="0.2100" stop-opacity="0.03"/><stop offset="0.2600" stop-opacity="0.006"/><stop offset="0.4400" stop-opacity="0.008"/><stop offset="0.4600" stop-opacity="0.15"/><stop offset="0.5415" stop-opacity="0.15"/><stop offset="0.5515" stop-opacity="0.85"/><stop offset="0.6315" stop-opacity="0.85"/><stop offset="0.7015" stop-opacity="0.95"/><stop offset="0.7215" stop-opacity="1"/><stop offset="1.0000" stop-opacity="1"/></linearGradient><linearGradient id="g69" gradientUnits="userSpaceOnUse" x1="0" y1="700" x2="0" y2="900"><stop offset="0.0000" stop-opacity="0"/><stop offset="0.0600" stop-opacity="0"/><stop offset="0.1000" stop-opacity="0.03"/><stop offset="0.2100" stop-opacity="0.03"/><stop offset="0.2600" stop-opacity="0.006"/><stop offset="0.4400" stop-opacity="0.008"/><stop offset="0.4600" stop-opacity="0.15"/><stop offset="0.5437" stop-opacity="0.15"/><stop offset="0.5537" stop-opacity="0.85"/><stop offset="0.6337" stop-opacity="0.85"/><stop offset="0.7037" stop-opacity="0.95"/><stop offset="0.7237" stop-opacity="1"/><stop offset="1.0000" stop-opacity="1"/></linearGradient><linearGradient id="g70" gradientUnits="userSpaceOnUse" x1="0" y1="700" x2="0" y2="900"><stop offset="0.0000" stop-opacity="0"/><stop offset="0.0600" stop-opacity="0"/><stop offset="0.1000" stop-opacity="0.03"/><stop offset="0.2100" stop-opacity="0.03"/><stop offset="0.2600" stop-opacity="0.006"/><stop offset="0.4400" stop-opacity="0.008"/><stop offset="0.4600" stop-opacity="0.15"/><stop offset="0.5458" stop-opacity="0.15"/><stop offset="0.5558" stop-opacity="0.85"/><stop offset="0.6358" stop-opacity="0.85"/><stop offset="0.7058" stop-opacity="0.95"/><stop offset="0.7258" stop-opacity="1"/><stop offset="1.0000" stop-opacity="1"/></linearGradient><linearGradient id="g71" gradientUnits="userSpaceOnUse" x1="0" y1="700" x2="0" y2="900"><stop offset="0.0000" stop-opacity="0"/><stop offset="0.0600" stop-opacity="0"/><stop offset="0.1000" stop-opacity="0.03"/><stop offset="0.2100" stop-opacity="0.03"/><stop offset="0.2600" stop-opacity="0.006"/><stop offset="0.4400" stop-opacity="0.008"/><stop offset="0.4600" stop-opacity="0.15"/><stop offset="0.5474" stop-opacity="0.15"/><stop offset="0.5574" stop-opacity="0.85"/><stop offset="0.6374" stop-opacity="0.85"/><stop offset="0.7074" stop-opacity="0.95"/><stop offset="0.7274" stop-opacity="1"/><stop offset="1.0000" stop-opacity="1"/></linearGradient><linearGradient id="g72" gradientUnits="userSpaceOnUse" x1="0" y1="700" x2="0" y2="900"><stop offset="0.0000" stop-opacity="0"/><stop offset="0.0600" stop-opacity="0"/><stop offset="0.1000" stop-opacity="0.03"/><stop offset="0.2100" stop-opacity="0.03"/><stop offset="0.2600" stop-opacity="0.006"/><stop offset="0.4400" stop-opacity="0.008"/><stop offset="0.4600" stop-opacity="0.15"/><stop offset="0.5491" stop-opacity="0.15"/><stop offset="0.5591" stop-opacity="0.85"/><stop offset="0.6391" stop-opacity="0.85"/><stop offset="0.7091" stop-opacity="0.95"/><stop offset="0.7291" stop-opacity="1"/><stop offset="1.0000" stop-opacity="1"/></linearGradient><linearGradient id="g73" gradientUnits="userSpaceOnUse" x1="0" y1="700" x2="0" y2="900"><stop offset="0.0000" stop-opacity="0"/><stop offset="0.0600" stop-opacity="0"/><stop offset="0.1000" stop-opacity="0.03"/><stop offset="0.2100" stop-opacity="0.03"/><stop offset="0.2600" stop-opacity="0.006"/><stop offset="0.4400" stop-opacity="0.008"/><stop offset="0.4600" stop-opacity="0.15"/><stop offset="0.5507" stop-opacity="0.15"/><stop offset="0.5607" stop-opacity="0.85"/><stop offset="0.6407" stop-opacity="0.85"/><stop offset="0.7107" stop-opacity="0.95"/><stop offset="0.7307" stop-opacity="1"/><stop offset="1.0000" stop-opacity="1"/></linearGradient><linearGradient id="g74" gradientUnits="userSpaceOnUse" x1="0" y1="700" x2="0" y2="900"><stop offset="0.0000" stop-opacity="0"/><stop offset="0.0600" stop-opacity="0"/><stop offset="0.1000" stop-opacity="0.03"/><stop offset="0.2100" stop-opacity="0.03"/><stop offset="0.2600" stop-opacity="0.006"/><stop offset="0.4400" stop-opacity="0.008"/><stop offset="0.4600" stop-opacity="0.15"/><stop offset="0.5529" stop-opacity="0.15"/><stop offset="0.5629" stop-opacity="0.85"/><stop offset="0.6429" stop-opacity="0.85"/><stop offset="0.7129" stop-opacity="0.95"/><stop offset="0.7329" stop-opacity="1"/><stop offset="1.0000" stop-opacity="1"/></linearGradient><linearGradient id="g75" gradientUnits="userSpaceOnUse" x1="0" y1="700" x2="0" y2="900"><stop offset="0.0000" stop-opacity="0"/><stop offset="0.0600" stop-opacity="0"/><stop offset="0.1000" stop-opacity="0.03"/><stop offset="0.2100" stop-opacity="0.03"/><stop offset="0.2600" stop-opacity="0.006"/><stop offset="0.4300" stop-opacity="0.008"/><stop offset="0.4500" stop-opacity="0.4"/><stop offset="0.5568" stop-opacity="0.4"/><stop offset="0.5668" stop-opacity="0.88"/><stop offset="0.6468" stop-opacity="0.88"/><stop offset="0.7168" stop-opacity="0.97"/><stop offset="0.7368" stop-opacity="1"/><stop offset="1.0000" stop-opacity="1"/></linearGradient><linearGradient id="g76" gradientUnits="userSpaceOnUse" x1="0" y1="700" x2="0" y2="900"><stop offset="0.0000" stop-opacity="0"/><stop offset="0.0600" stop-opacity="0"/><stop offset="0.1000" stop-opacity="0.03"/><stop offset="0.2100" stop-opacity="0.03"/><stop offset="0.2600" stop-opacity="0.006"/><stop offset="0.4300" stop-opacity="0.008"/><stop offset="0.4500" stop-opacity="0.4"/><stop offset="0.5535" stop-opacity="0.4"/><stop offset="0.5635" stop-opacity="0.88"/><stop offset="0.6435" stop-opacity="0.88"/><stop offset="0.7135" stop-opacity="0.97"/><stop offset="0.7335" stop-opacity="1"/><stop offset="1.0000" stop-opacity="1"/></linearGradient><linearGradient id="g77" gradientUnits="userSpaceOnUse" x1="0" y1="700" x2="0" y2="900"><stop offset="0.0000" stop-opacity="0"/><stop offset="0.0600" stop-opacity="0"/><stop offset="0.1000" stop-opacity="0.03"/><stop offset="0.2100" stop-opacity="0.03"/><stop offset="0.2600" stop-opacity="0.006"/><stop offset="0.4300" stop-opacity="0.008"/><stop offset="0.4500" stop-opacity="0.4"/><stop offset="0.5408" stop-opacity="0.4"/><stop offset="0.5508" stop-opacity="0.88"/><stop offset="0.6308" stop-opacity="0.88"/><stop offset="0.7008" stop-opacity="0.97"/><stop offset="0.7208" stop-opacity="1"/><stop offset="1.0000" stop-opacity="1"/></linearGradient><linearGradient id="g78" gradientUnits="userSpaceOnUse" x1="0" y1="700" x2="0" y2="900"><stop offset="0.0000" stop-opacity="0"/><stop offset="0.0600" stop-opacity="0"/><stop offset="0.1000" stop-opacity="0.03"/><stop offset="0.2100" stop-opacity="0.03"/><stop offset="0.2600" stop-opacity="0.006"/><stop offset="0.4300" stop-opacity="0.008"/><stop offset="0.4500" stop-opacity="0.4"/><stop offset="0.5283" stop-opacity="0.4"/><stop offset="0.5383" stop-opacity="0.88"/><stop offset="0.6183" stop-opacity="0.88"/><stop offset="0.6883" stop-opacity="0.97"/><stop offset="0.7083" stop-opacity="1"/><stop offset="1.0000" stop-opacity="1"/></linearGradient><linearGradient id="g79" gradientUnits="userSpaceOnUse" x1="0" y1="700" x2="0" y2="900"><stop offset="0.0000" stop-opacity="0"/><stop offset="0.0600" stop-opacity="0"/><stop offset="0.1000" stop-opacity="0.03"/><stop offset="0.2100" stop-opacity="0.03"/><stop offset="0.2600" stop-opacity="0.006"/><stop offset="0.4300" stop-opacity="0.008"/><stop offset="0.4500" stop-opacity="0.4"/><stop offset="0.5275" stop-opacity="0.4"/><stop offset="0.5375" stop-opacity="0.88"/><stop offset="0.6175" stop-opacity="0.88"/><stop offset="0.6875" stop-opacity="0.97"/><stop offset="0.7075" stop-opacity="1"/><stop offset="1.0000" stop-opacity="1"/></linearGradient><filter id="spk" filterUnits="userSpaceOnUse" x="200" y="700" width="3500" height="200" color-interpolation-filters="sRGB">
<feGaussianBlur in="SourceAlpha" stdDeviation="8 1.5" result="dens"/>
<feTurbulence type="fractalNoise" baseFrequency="0.22 0.45" numOctaves="2" seed="7" result="turb"/>
<feColorMatrix in="turb" type="matrix" values="0 0 0 0 0  0 0 0 0 0  0 0 0 0 0  1 0 0 0 0" result="n0"/>
<feComponentTransfer in="n0" result="nu"><feFuncA type="table" tableValues="0.0000 0.0000 0.0000 0.0000 0.0000 0.0001 0.0005 0.0012 0.0033 0.0069 0.0136 0.0278 0.0463 0.0708 0.1075 0.1466 0.2020 0.2571 0.3226 0.4098 0.4877 0.5806 0.6702 0.7388 0.8078 0.8572 0.8976 0.9347 0.9582 0.9756 0.9883 0.9943 0.9977 0.9991 0.9997 0.9999 1.0000 1.0000 1.0000 1.0000 1.0000"/></feComponentTransfer>
<feComposite in="dens" in2="nu" operator="arithmetic" k1="0" k2="1" k3="-1" k4="0.5" result="diff"/>
<feComponentTransfer in="diff" result="mask"><feFuncA type="discrete" tableValues="0 1"/></feComponentTransfer>
<feFlood flood-color="#d3d3d3" result="gray"/>
<feComposite in="gray" in2="mask" operator="in"/>
</filter><clipPath id="plotclip"><rect x="266" y="110" width="3371" height="847"/></clipPath></defs>
<g clip-path="url(#plotclip)"><g filter="url(#spk)"><rect x="200.0" y="700" width="40.5" height="200" fill="url(#g0)"/><rect x="240.0" y="700" width="40.5" height="200" fill="url(#g1)"/><rect x="280.0" y="700" width="40.5" height="200" fill="url(#g2)"/><rect x="320.0" y="700" width="40.5" height="200" fill="url(#g3)"/><rect x="360.0" y="700" width="40.5" height="200" fill="url(#g4)"/><rect x="400.0" y="700" width="40.5" height="200" fill="url(#g5)"/><rect x="440.0" y="700" width="40.5" height="200" fill="url(#g6)"/><rect x="480.0" y="700" width="40.5" height="200" fill="url(#g7)"/><rect x="520.0" y="700" width="40.5" height="200" fill="url(#g8)"/><rect x="560.0" y="700" width="30.5" height="200" fill="url(#g9)"/><rect x="590.0" y="700" width="40.5" height="200" fill="url(#g10)"/><rect x="630.0" y="700" width="40.5" height="200" fill="url(#g11)"/><rect x="670.0" y="700" width="40.5" height="200" fill="url(#g12)"/><rect x="710.0" y="700" width="60.5" height="200" fill="url(#g13)"/><rect x="770.0" y="700" width="60.5" height="200" fill="url(#g14)"/><rect x="830.0" y="700" width="40.5" height="200" fill="url(#g15)"/><rect x="870.0" y="700" width="43.8" height="200" fill="url(#g16)"/><rect x="913.3" y="700" width="43.8" height="200" fill="url(#g17)"/><rect x="956.7" y="700" width="43.8" height="200" fill="url(#g18)"/><rect x="1000.0" y="700" width="42.2" height="200" fill="url(#g19)"/><rect x="1041.7" y="700" width="42.2" height="200" fill="url(#g20)"/><rect x="1083.3" y="700" width="42.2" height="200" fill="url(#g21)"/><rect x="1125.0" y="700" width="42.2" height="200" fill="url(#g22)"/><rect x="1166.7" y="700" width="42.2" height="200" fill="url(#g23)"/><rect x="1208.3" y="700" width="42.2" height="200" fill="url(#g24)"/><rect x="1250.0" y="700" width="40.5" height="200" fill="url(#g25)"/><rect x="1290.0" y="700" width="40.5" height="200" fill="url(#g26)"/><rect x="1330.0" y="700" width="40.5" height="200" fill="url(#g27)"/><rect x="1370.0" y="700" width="40.5" height="200" fill="url(#g28)"/><rect x="1410.0" y="700" width="40.5" height="200" fill="url(#g29)"/><rect x="1450.0" y="700" width="40.5" height="200" fill="url(#g30)"/><rect x="1490.0" y="700" width="40.5" height="200" fill="url(#g31)"/><rect x="1530.0" y="700" width="40.5" height="200" fill="url(#g32)"/><rect x="1570.0" y="700" width="40.5" height="200" fill="url(#g33)"/><rect x="1610.0" y="700" width="40.5" height="200" fill="url(#g34)"/><rect x="1650.0" y="700" width="50.5" height="200" fill="url(#g35)"/><rect x="1700.0" y="700" width="50.5" height="200" fill="url(#g36)"/><rect x="1750.0" y="700" width="50.5" height="200" fill="url(#g37)"/><rect x="1800.0" y="700" width="50.5" height="200" fill="url(#g38)"/><rect x="1850.0" y="700" width="50.5" height="200" fill="url(#g39)"/><rect x="1900.0" y="700" width="50.5" height="200" fill="url(#g40)"/><rect x="1950.0" y="700" width="50.5" height="200" fill="url(#g41)"/><rect x="2000.0" y="700" width="50.5" height="200" fill="url(#g42)"/><rect x="2050.0" y="700" width="50.5" height="200" fill="url(#g43)"/><rect x="2100.0" y="700" width="50.5" height="200" fill="url(#g44)"/><rect x="2150.0" y="700" width="40.5" height="200" fill="url(#g45)"/><rect x="2190.0" y="700" width="40.5" height="200" fill="url(#g46)"/><rect x="2230.0" y="700" width="40.5" height="200" fill="url(#g47)"/><rect x="2270.0" y="700" width="40.5" height="200" fill="url(#g48)"/><rect x="2310.0" y="700" width="40.5" height="200" fill="url(#g49)"/><rect x="2350.0" y="700" width="50.5" height="200" fill="url(#g50)"/><rect x="2400.0" y="700" width="50.5" height="200" fill="url(#g51)"/><rect x="2450.0" y="700" width="50.5" height="200" fill="url(#g52)"/><rect x="2500.0" y="700" width="50.5" height="200" fill="url(#g53)"/><rect x="2550.0" y="700" width="50.5" height="200" fill="url(#g54)"/><rect x="2600.0" y="700" width="50.5" height="200" fill="url(#g55)"/><rect x="2650.0" y="700" width="42.2" height="200" fill="url(#g56)"/><rect x="2691.7" y="700" width="42.2" height="200" fill="url(#g57)"/><rect x="2733.3" y="700" width="42.2" height="200" fill="url(#g58)"/><rect x="2775.0" y="700" width="42.2" height="200" fill="url(#g59)"/><rect x="2816.7" y="700" width="42.2" height="200" fill="url(#g60)"/><rect x="2858.3" y="700" width="42.2" height="200" fill="url(#g61)"/><rect x="2900.0" y="700" width="50.5" height="200" fill="url(#g62)"/><rect x="2950.0" y="700" width="50.5" height="200" fill="url(#g63)"/><rect x="3000.0" y="700" width="50.5" height="200" fill="url(#g64)"/><rect x="3050.0" y="700" width="43.5" height="200" fill="url(#g65)"/><rect x="3093.0" y="700" width="43.5" height="200" fill="url(#g66)"/><rect x="3136.0" y="700" width="43.5" height="200" fill="url(#g67)"/><rect x="3179.0" y="700" width="43.5" height="200" fill="url(#g68)"/><rect x="3222.0" y="700" width="43.5" height="200" fill="url(#g69)"/><rect x="3265.0" y="700" width="43.5" height="200" fill="url(#g70)"/><rect x="3308.0" y="700" width="43.5" height="200" fill="url(#g71)"/><rect x="3351.0" y="700" width="43.5" height="200" fill="url(#g72)"/><rect x="3394.0" y="700" width="43.5" height="200" fill="url(#g73)"/><rect x="3437.0" y="700" width="43.5" height="200" fill="url(#g74)"/><rect x="3480.0" y="700" width="44.5" height="200" fill="url(#g75)"/><rect x="3524.0" y="700" width="44.5" height="200" fill="url(#g76)"/><rect x="3568.0" y="700" width="44.5" height="200" fill="url(#g77)"/><rect x="3612.0" y="700" width="44.5" height="200" fill="url(#g78)"/><rect x="3656.0" y="700" width="44.5" height="200" fill="url(#g79)"/></g></g>
<rect x="266" y="880" width="3371" height="77" fill="#d3d3d3"/>
<path d="M2074,325H2076V331H2077V336H2076V339H2074Z M2232.7,311H2234.7V313H2236V313.5H2242V315.5H2238V317H2239.5V321H2238.8V323H2238.3V325H2237V323H2235V321H2233V318H2232V316.5H2230V313H2232.7Z M2303,318H2306V321H2307V324H2306.8V329H2303Z" fill="#00ffff"/>
<g clip-path="url(#plotclip)"><path d="M2262,947L2279,977L2245,977Z M1604,949L1621,979L1587,979Z M2303,952L2320,982L2286,982Z" fill="#ff0000"/></g>
<rect x="675" y="113" width="17" height="5" fill="#000"/>
<line x1="1603" y1="611" x2="1603" y2="913" stroke="#32cd32" stroke-width="4"/>
<line x1="1576.5" y1="611" x2="1629.5" y2="611" stroke="#32cd32" stroke-width="4"/>
<line x1="1576.5" y1="913" x2="1629.5" y2="913" stroke="#32cd32" stroke-width="4"/>
<circle cx="1603" cy="761.5" r="17" fill="#32cd32"/>
<line x1="1740" y1="564" x2="1740" y2="685" stroke="#0000ff" stroke-width="4"/>
<line x1="1713.5" y1="564" x2="1766.5" y2="564" stroke="#0000ff" stroke-width="4"/>
<line x1="1713.5" y1="685" x2="1766.5" y2="685" stroke="#0000ff" stroke-width="4"/>
<circle cx="1740" cy="624.3" r="17" fill="#0000ff"/>
<line x1="2262" y1="714.7" x2="2262" y2="760.9" stroke="#32cd32" stroke-width="4"/>
<line x1="2235.5" y1="714.7" x2="2288.5" y2="714.7" stroke="#32cd32" stroke-width="4"/>
<line x1="2235.5" y1="760.9" x2="2288.5" y2="760.9" stroke="#32cd32" stroke-width="4"/>
<circle cx="2262" cy="737.2" r="17" fill="#32cd32"/>
<line x1="2303" y1="834.7" x2="2303" y2="899.6" stroke="#32cd32" stroke-width="4"/>
<line x1="2276.5" y1="834.7" x2="2329.5" y2="834.7" stroke="#32cd32" stroke-width="4"/>
<line x1="2276.5" y1="899.6" x2="2329.5" y2="899.6" stroke="#32cd32" stroke-width="4"/>
<circle cx="2303" cy="867" r="17" fill="#32cd32"/>
<polyline points="266.0,150.0 363.0,145.8 408.0,139.0 532.0,151.3 667.6,167.6 722.0,169.7 803.5,171.2 885.0,174.3 960.0,176.3 1041.5,177.0 1231.7,169.7 1367.6,165.6 1462.7,162.7 1561.0,163.0" fill="none" stroke="#000" stroke-width="4.2"/>
<polyline points="1666.0,165.7 1792.0,168.9 1893.0,169.7 1978.0,169.9 2056.0,173.0 2087.0,173.5 2312.0,160.8 2366.0,160.8 2506.0,172.0 2661.0,176.0 2941.0,175.7 3089.0,169.2 3283.0,169.0 3492.0,165.2 3560.0,167.5 3637.0,168.0" fill="none" stroke="#000" stroke-width="4.2"/>
<text x="1614.2" y="185.7" text-anchor="middle" font-size="59" transform="rotate(1.47 1614.2 165.4)">210</text>
<polyline points="266.0,399.3 960.0,397.7 1231.0,399.0 1400.0,400.4 1561.0,403.0" fill="none" stroke="#000" stroke-width="4.2"/>
<polyline points="1667.0,404.8 1900.0,406.0 2160.0,406.8 2300.0,405.6 2660.0,406.4 3170.0,404.5 3400.0,405.2 3637.0,403.7" fill="none" stroke="#000" stroke-width="4.2"/>
<text x="1614.2" y="424.8" text-anchor="middle" font-size="59" transform="rotate(0.97 1614.2 404.5)">230</text>
<polyline points="266.0,545.8 388.0,544.5 439.0,545.8 488.0,546.4 543.0,547.4 638.0,548.5 831.0,549.3 960.0,549.3 1101.0,550.7 1186.0,549.3 1395.0,548.5 1561.0,548.5" fill="none" stroke="#000" stroke-width="4.2"/>
<polyline points="1667.0,548.5 2005.0,548.5 2360.0,549.3 2460.0,548.5 2740.0,547.7 2971.0,548.5 3300.0,549.5 3400.0,550.2 3500.0,551.8 3560.0,554.4 3637.0,556.6" fill="none" stroke="#000" stroke-width="4.2"/>
<text x="1614.2" y="570.8" text-anchor="middle" font-size="59" transform="rotate(0.00 1614.2 550.5)">250</text>
<polyline points="266.0,737.9 477.0,738.4 597.0,739.8 722.0,742.0 822.0,743.3 960.0,744.7 1137.0,746.6 1270.0,748.5 1362.0,749.3 1422.0,748.5 1561.0,747.9" fill="none" stroke="#000" stroke-width="4.2"/>
<polyline points="1667.0,746.6 1815.0,745.8 1971.0,744.7 2054.0,743.7 2179.0,743.0 2360.0,743.0 2482.0,745.2 2596.0,746.6 2686.0,746.6 2795.0,745.2 2917.0,743.9 3060.0,741.1 3136.0,739.0 3272.0,737.9 3413.0,739.2 3595.0,739.0 3637.0,739.0" fill="none" stroke="#000" stroke-width="4.2"/>
<text x="1614.2" y="768.8" text-anchor="middle" font-size="59" transform="rotate(-0.70 1614.2 748.5)">273</text>
<polyline points="266.0,797.4 312.0,797.4 377.0,798.8 491.0,800.4 562.0,800.4 602.0,798.8 684.0,797.4 782.0,796.3 960.0,797.4 1172.0,796.8 1324.0,795.5 1561.0,795.5" fill="none" stroke="#000" stroke-width="4.2"/>
<polyline points="1667.0,797.4 1804.0,798.8 1921.0,800.4 2073.0,802.3 2360.0,802.3 2558.0,802.3 2632.0,803.6 2827.0,804.5 2931.0,805.5 3060.0,806.9 3141.0,807.7 3280.0,809.1 3448.0,810.4 3527.0,811.8 3598.0,807.7 3637.0,805.5" fill="none" stroke="#000" stroke-width="4.2"/>
<text x="1614.2" y="817.6" text-anchor="middle" font-size="59" transform="rotate(1.03 1614.2 797.3)">279</text>
<polyline points="266.0,883.0 440.0,885.7 525.0,887.6 600.0,887.0 844.0,886.5 1077.0,876.0 1160.0,874.8 1300.0,874.8 1561.0,877.4" fill="none" stroke="#000" stroke-width="4.2"/>
<polyline points="1667.0,877.5 1900.0,883.3 2100.0,886.4 2400.0,888.0 2660.0,886.4 3000.0,888.0 3400.0,889.5 3550.0,891.8 3637.0,894.2" fill="none" stroke="#000" stroke-width="4.2"/>
<text x="1614.2" y="898.7" text-anchor="middle" font-size="59" transform="rotate(0.05 1614.2 878.4)">290</text>
<rect x="263" y="109" width="6" height="851" fill="#000"/>
<rect x="263" y="954" width="3377" height="6" fill="#000"/>
<rect x="263.0" y="894" width="6" height="60" fill="#000"/>
<rect x="333.2" y="924" width="6" height="30" fill="#000"/>
<rect x="403.5" y="924" width="6" height="30" fill="#000"/>
<rect x="473.7" y="924" width="6" height="30" fill="#000"/>
<rect x="543.9" y="894" width="6" height="60" fill="#000"/>
<rect x="614.1" y="924" width="6" height="30" fill="#000"/>
<rect x="684.4" y="924" width="6" height="30" fill="#000"/>
<rect x="754.6" y="924" width="6" height="30" fill="#000"/>
<rect x="824.8" y="894" width="6" height="60" fill="#000"/>
<rect x="895.1" y="924" width="6" height="30" fill="#000"/>
<rect x="965.3" y="924" width="6" height="30" fill="#000"/>
<rect x="1035.5" y="924" width="6" height="30" fill="#000"/>
<rect x="1105.8" y="894" width="6" height="60" fill="#000"/>
<rect x="1176.0" y="924" width="6" height="30" fill="#000"/>
<rect x="1246.2" y="924" width="6" height="30" fill="#000"/>
<rect x="1316.4" y="924" width="6" height="30" fill="#000"/>
<rect x="1386.7" y="894" width="6" height="60" fill="#000"/>
<rect x="1456.9" y="924" width="6" height="30" fill="#000"/>
<rect x="1527.1" y="924" width="6" height="30" fill="#000"/>
<rect x="1597.4" y="924" width="6" height="30" fill="#000"/>
<rect x="1667.6" y="894" width="6" height="60" fill="#000"/>
<rect x="1737.8" y="924" width="6" height="30" fill="#000"/>
<rect x="1808.0" y="924" width="6" height="30" fill="#000"/>
<rect x="1878.3" y="924" width="6" height="30" fill="#000"/>
<rect x="1948.5" y="894" width="6" height="60" fill="#000"/>
<rect x="2018.7" y="924" width="6" height="30" fill="#000"/>
<rect x="2089.0" y="924" width="6" height="30" fill="#000"/>
<rect x="2159.2" y="924" width="6" height="30" fill="#000"/>
<rect x="2229.4" y="894" width="6" height="60" fill="#000"/>
<rect x="2299.6" y="924" width="6" height="30" fill="#000"/>
<rect x="2369.9" y="924" width="6" height="30" fill="#000"/>
<rect x="2440.1" y="924" width="6" height="30" fill="#000"/>
<rect x="2510.3" y="894" width="6" height="60" fill="#000"/>
<rect x="2580.6" y="924" width="6" height="30" fill="#000"/>
<rect x="2650.8" y="924" width="6" height="30" fill="#000"/>
<rect x="2721.0" y="924" width="6" height="30" fill="#000"/>
<rect x="2791.2" y="894" width="6" height="60" fill="#000"/>
<rect x="2861.5" y="924" width="6" height="30" fill="#000"/>
<rect x="2931.7" y="924" width="6" height="30" fill="#000"/>
<rect x="3001.9" y="924" width="6" height="30" fill="#000"/>
<rect x="3072.2" y="894" width="6" height="60" fill="#000"/>
<rect x="3142.4" y="924" width="6" height="30" fill="#000"/>
<rect x="3212.6" y="924" width="6" height="30" fill="#000"/>
<rect x="3282.9" y="924" width="6" height="30" fill="#000"/>
<rect x="3353.1" y="894" width="6" height="60" fill="#000"/>
<rect x="3423.3" y="924" width="6" height="30" fill="#000"/>
<rect x="3493.5" y="924" width="6" height="30" fill="#000"/>
<rect x="3563.8" y="924" width="6" height="30" fill="#000"/>
<rect x="3634.0" y="894" width="6" height="60" fill="#000"/>
<text x="241.7" y="1035.9" font-size="81.34" textLength="48.5" lengthAdjust="spacingAndGlyphs">0</text>
<text x="522.6" y="1035.9" font-size="81.34" textLength="48.5" lengthAdjust="spacingAndGlyphs">2</text>
<text x="803.6" y="1035.9" font-size="81.34" textLength="48.5" lengthAdjust="spacingAndGlyphs">4</text>
<text x="1084.5" y="1035.9" font-size="81.34" textLength="48.5" lengthAdjust="spacingAndGlyphs">6</text>
<text x="1365.4" y="1035.9" font-size="81.34" textLength="48.5" lengthAdjust="spacingAndGlyphs">8</text>
<text x="1622.0" y="1035.9" font-size="81.34" textLength="97.1" lengthAdjust="spacingAndGlyphs">10</text>
<text x="1903.0" y="1035.9" font-size="81.34" textLength="97.1" lengthAdjust="spacingAndGlyphs">12</text>
<text x="2183.9" y="1035.9" font-size="81.34" textLength="97.1" lengthAdjust="spacingAndGlyphs">14</text>
<text x="2464.8" y="1035.9" font-size="81.34" textLength="97.1" lengthAdjust="spacingAndGlyphs">16</text>
<text x="2745.7" y="1035.9" font-size="81.34" textLength="97.1" lengthAdjust="spacingAndGlyphs">18</text>
<text x="3026.6" y="1035.9" font-size="81.34" textLength="97.1" lengthAdjust="spacingAndGlyphs">20</text>
<text x="3307.5" y="1035.9" font-size="81.34" textLength="97.1" lengthAdjust="spacingAndGlyphs">22</text>
<text x="3588.5" y="1035.9" font-size="81.34" textLength="97.1" lengthAdjust="spacingAndGlyphs">24</text>
<rect x="263" y="109.0" width="84" height="6" fill="#000"/>
<text x="82.9" y="137.0" font-size="70.89" textLength="148.1" lengthAdjust="spacingAndGlyphs">15.0</text>
<rect x="263" y="214.6" width="84" height="6" fill="#000"/>
<text x="82.9" y="242.6" font-size="70.89" textLength="148.1" lengthAdjust="spacingAndGlyphs">13.1</text>
<rect x="263" y="320.2" width="84" height="6" fill="#000"/>
<text x="82.9" y="348.2" font-size="70.89" textLength="148.1" lengthAdjust="spacingAndGlyphs">11.2</text>
<rect x="263" y="425.8" width="84" height="6" fill="#000"/>
<text x="82.9" y="453.8" font-size="70.89" textLength="148.1" lengthAdjust="spacingAndGlyphs">9.44</text>
<rect x="263" y="531.4" width="84" height="6" fill="#000"/>
<text x="82.9" y="559.4" font-size="70.89" textLength="148.1" lengthAdjust="spacingAndGlyphs">7.58</text>
<rect x="263" y="637.0" width="84" height="6" fill="#000"/>
<text x="82.9" y="665.0" font-size="70.89" textLength="148.1" lengthAdjust="spacingAndGlyphs">5.73</text>
<rect x="263" y="742.6" width="84" height="6" fill="#000"/>
<text x="82.9" y="770.6" font-size="70.89" textLength="148.1" lengthAdjust="spacingAndGlyphs">3.87</text>
<rect x="263" y="848.2" width="84" height="6" fill="#000"/>
<text x="82.9" y="876.2" font-size="70.89" textLength="148.1" lengthAdjust="spacingAndGlyphs">2.02</text>
<rect x="263" y="953.8" width="84" height="6" fill="#000"/>
<text x="82.9" y="981.8" font-size="70.89" textLength="148.1" lengthAdjust="spacingAndGlyphs">0.16</text>
<text x="1741.0" y="1116.0" font-size="80.50" textLength="419.0" lengthAdjust="spacingAndGlyphs">Time (UTC)</text>
<text x="0.0" y="0.0" font-size="70.94" textLength="602.1" lengthAdjust="spacingAndGlyphs" transform="translate(35.4,835) rotate(-90)">Height AMSL (km)</text>
<text x="1474.1" y="77" font-size="100.4">Limassol: 2025/10/20</text>
<defs><linearGradient id="cb" x1="0" x2="1" y1="0" y2="0"><stop offset="0" stop-color="#ffffff"/><stop offset="0.3333" stop-color="#ffb6c1"/><stop offset="0.6667" stop-color="#00ffff"/><stop offset="1" stop-color="#d3d3d3"/></linearGradient></defs>
<rect x="266" y="1144" width="3371" height="53" fill="url(#cb)"/>
<rect x="263" y="1197" width="3377" height="6" fill="#000"/>
<rect x="263.0" y="1183" width="6" height="14" fill="#000"/>
<rect x="375.4" y="1190" width="6" height="7" fill="#000"/>
<rect x="487.7" y="1190" width="6" height="7" fill="#000"/>
<rect x="600.1" y="1190" width="6" height="7" fill="#000"/>
<rect x="712.5" y="1190" width="6" height="7" fill="#000"/>
<rect x="824.8" y="1190" width="6" height="7" fill="#000"/>
<rect x="937.2" y="1190" width="6" height="7" fill="#000"/>
<rect x="1049.6" y="1190" width="6" height="7" fill="#000"/>
<rect x="1161.9" y="1190" width="6" height="7" fill="#000"/>
<rect x="1274.3" y="1190" width="6" height="7" fill="#000"/>
<rect x="1386.7" y="1183" width="6" height="14" fill="#000"/>
<rect x="1499.0" y="1190" width="6" height="7" fill="#000"/>
<rect x="1611.4" y="1190" width="6" height="7" fill="#000"/>
<rect x="1723.8" y="1190" width="6" height="7" fill="#000"/>
<rect x="1836.1" y="1190" width="6" height="7" fill="#000"/>
<rect x="1948.5" y="1190" width="6" height="7" fill="#000"/>
<rect x="2060.9" y="1190" width="6" height="7" fill="#000"/>
<rect x="2173.2" y="1190" width="6" height="7" fill="#000"/>
<rect x="2285.6" y="1190" width="6" height="7" fill="#000"/>
<rect x="2398.0" y="1190" width="6" height="7" fill="#000"/>
<rect x="2510.3" y="1183" width="6" height="14" fill="#000"/>
<rect x="2622.7" y="1190" width="6" height="7" fill="#000"/>
<rect x="2735.1" y="1190" width="6" height="7" fill="#000"/>
<rect x="2847.4" y="1190" width="6" height="7" fill="#000"/>
<rect x="2959.8" y="1190" width="6" height="7" fill="#000"/>
<rect x="3072.2" y="1190" width="6" height="7" fill="#000"/>
<rect x="3184.5" y="1190" width="6" height="7" fill="#000"/>
<rect x="3296.9" y="1190" width="6" height="7" fill="#000"/>
<rect x="3409.3" y="1190" width="6" height="7" fill="#000"/>
<rect x="3521.6" y="1190" width="6" height="7" fill="#000"/>
<rect x="3634.0" y="1183" width="6" height="14" fill="#000"/>
<text x="179.6" y="1262.8" font-size="61.81" textLength="152.2" lengthAdjust="spacingAndGlyphs">Clear</text>
<text x="1302.0" y="1260.6" font-size="61.81" textLength="172.0" lengthAdjust="spacingAndGlyphs">Water</text>
<text x="2471.1" y="1260.7" font-size="61.81" textLength="85.0" lengthAdjust="spacingAndGlyphs">Ice</text>
<text x="3553.5" y="1262.8" font-size="61.81" textLength="165.3" lengthAdjust="spacingAndGlyphs">Other</text>
<rect x="248.75" y="1312.75" width="651.5" height="248.5" fill="none" stroke="#000" stroke-width="5.5"/>
<circle cx="287" cy="1383.75" r="16.8" fill="#32cd32"/>
<text x="323.6" y="1405.5" font-size="61.91" textLength="459.6" lengthAdjust="spacingAndGlyphs">FCI-OCA SL Wat</text>
<path d="M270.5,1463.7L303.5,1496.7M270.5,1496.7L303.5,1463.7" stroke="#32cd32" stroke-width="5" fill="none"/>
<text x="323.2" y="1502.0" font-size="61.91" textLength="512.3" lengthAdjust="spacingAndGlyphs">OCA High Err Wat</text>
<rect x="993.75" y="1312.75" width="617.5" height="162.5" fill="none" stroke="#000" stroke-width="5.5"/>
<path d="M1015.0,1376.0L1049.0,1410.0M1015.0,1410.0L1049.0,1376.0" stroke="#0000ff" stroke-width="5" fill="none"/>
<text x="1069.2" y="1416.0" font-size="61.91" textLength="484.9" lengthAdjust="spacingAndGlyphs">OCA High Err Ice</text>
<rect x="2327.75" y="1312.75" width="559.5" height="401.5" fill="none" stroke="#000" stroke-width="5.5"/>
<polygon points="2348,1394 2382,1394 2365,1363.5" fill="#ff0000"/>
<polygon points="2348,1459 2382,1459 2365,1490" fill="#ff0000"/>
<polygon points="2352.5,1563.5 2377.5,1563.5 2365,1541.5" fill="none" stroke="#ff0000" stroke-width="4.5"/>
<polygon points="2352.5,1635.5 2377.5,1635.5 2365,1657.5" fill="none" stroke="#ff0000" stroke-width="4.5"/>
<text x="2403.7" y="1406.2" font-size="61.91" textLength="353.0" lengthAdjust="spacingAndGlyphs">ACTRIS CBH</text>
<text x="2403.7" y="1492.6" font-size="61.91" textLength="348.6" lengthAdjust="spacingAndGlyphs">ACTRIS CTH</text>
<text x="2403.7" y="1579.4" font-size="61.91" textLength="444.0" lengthAdjust="spacingAndGlyphs">ACTRIS CBH BL</text>
<text x="2403.7" y="1665.8" font-size="61.91" textLength="439.6" lengthAdjust="spacingAndGlyphs">ACTRIS CTH BL</text>
</svg>
</body></html>
